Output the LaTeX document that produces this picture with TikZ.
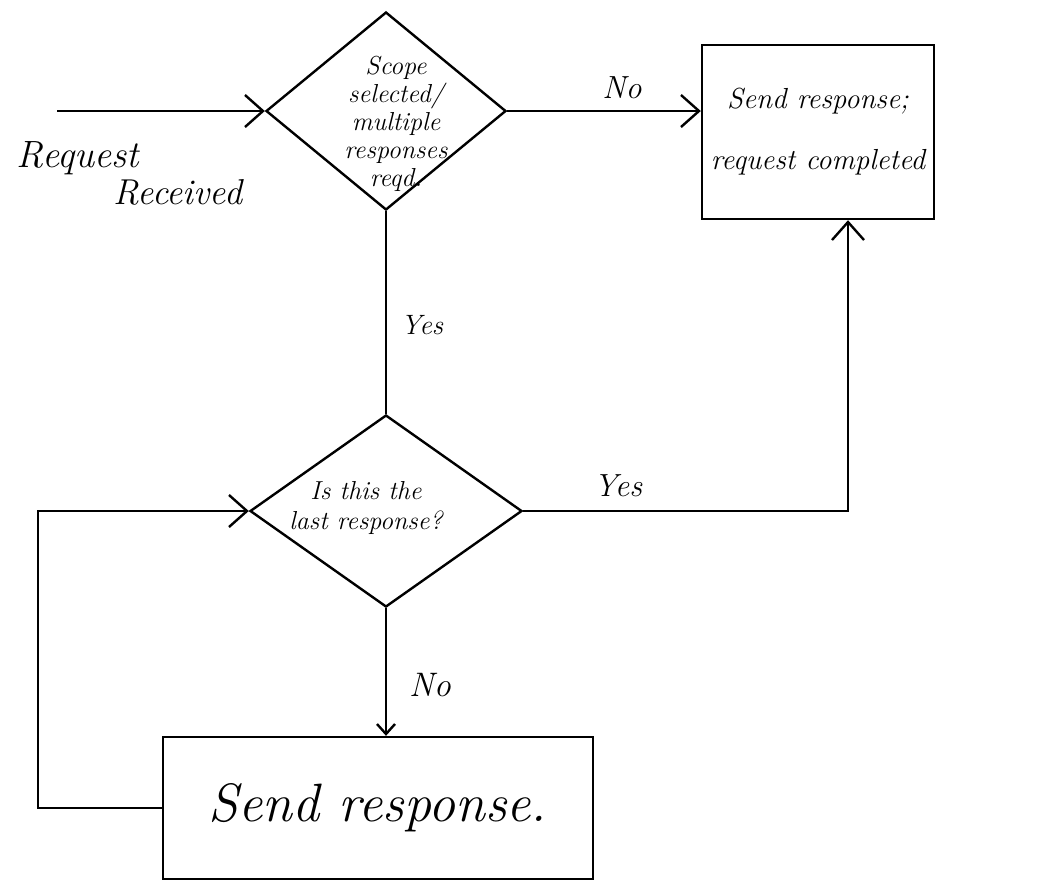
\documentclass[tikz,border=0pt]{standalone}
\usetikzlibrary{shapes.geometric,arrows.meta}
\begin{document}
\begin{tikzpicture}[x=0.5pt,y=-0.5pt,
  line width=1.2pt,
  decision/.style={draw,diamond,inner sep=0pt},
  procbox/.style={draw,rectangle,inner sep=0pt},
  txt/.style={font=\fontsize{#1}{#1}\selectfont\itshape, inner sep=0pt},
  flow/.style={-{Straight Barb[length=9pt,width=16pt]}}]
\fill[white] (0,0) rectangle (1048,891);
\useasboundingbox (0,0) rectangle (1048,891);

% shapes
\node[decision, minimum width=120pt, minimum height=99pt] (d1) at (386,111) {};
\node[txt=13, align=center] (d1t) at (396,124) {Scope\\[1pt]selected/\\[1pt]multiple\\[1pt]responses\\[1pt]reqd.};

\node[procbox, minimum width=116pt, minimum height=87pt, align=center,
      txt=14.5] (box1) at (818,132) {Send response;\\[16pt]request completed};

\node[decision, minimum width=136pt, minimum height=96pt] (d2) at (386,511) {};
\node[txt=13, align=center] (d2t) at (366,508) {Is this the\\[2pt]last response?};

\node[procbox, minimum width=215pt, minimum height=71pt, txt=27] (box2) at (378,808) {Send response.};

% helper coordinates
\coordinate (in) at (57,111);
\coordinate (cr) at (848,511);
\coordinate (cl) at (38,511);

% connectors
\draw[flow] (in) -- (d1.west);
\draw[flow] (d1.east) -- (d1.east -| box1.west);
\draw (d1.south) -- (d2.north);
\draw[flow] (d2.east) -- (cr) -- (cr |- box1.south);
\draw[-{Straight Barb[length=5pt,width=9pt]}] (d2.south) -- (d2.south |- box2.north);
\draw[flow] (box2.west) -| (cl) -- (d2.west);

% labels
\node[txt=19] (lreq) at (78,158) {Request};
\node[txt=18] (lrec) at (178,192) {Received};
\node[txt=16] (lno1) at (622,88) {No};
\node[txt=14] (lyes1) at (422,325) {Yes};
\node[txt=16] (lyes2) at (618,486) {Yes};
\node[txt=17] (lno2) at (430,685) {No};
\end{tikzpicture}
\end{document}
